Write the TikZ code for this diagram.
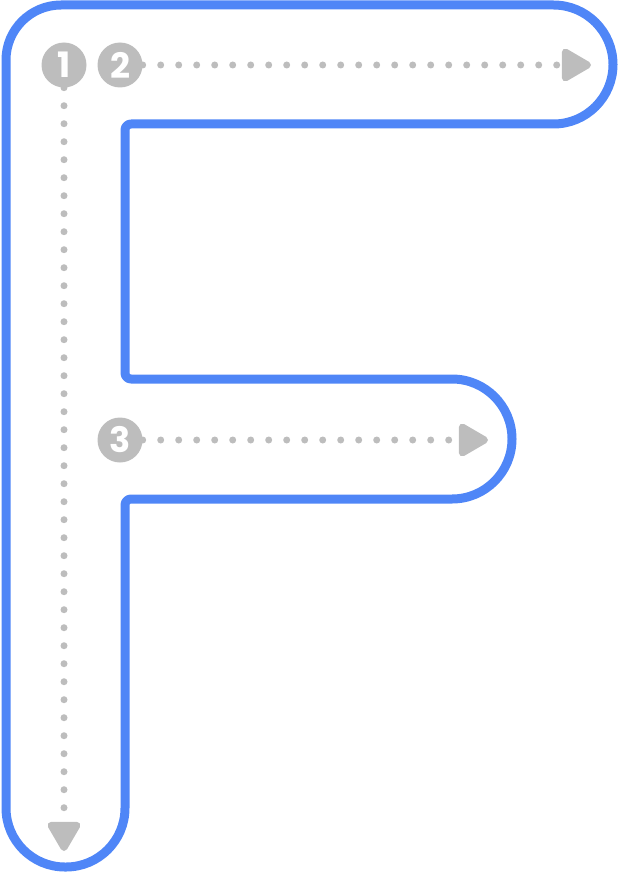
\documentclass[tikz,border=0pt]{standalone}
\usepackage{fontspec}
\setmainfont{Poppins}
\usetikzlibrary{arrows.meta}
\definecolor{fblue}{HTML}{4F86F7}
\definecolor{fgray}{HTML}{BDBDBD}

\begin{document}
\begin{tikzpicture}[x=1pt, y=-1pt,
  outline/.style={draw=fblue, line width=9pt, line join=round},
  badge/.style={circle, fill=fgray, minimum size=45pt, inner sep=0pt,
                text=white, font=\fontsize{35}{35}\selectfont\bfseries},
  trace/.style={draw=fgray, line width=7pt, line cap=round,
                dash pattern=on 0pt off 18pt,
                -{Triangle[length=33pt, width=36pt, round]}}
]
\useasboundingbox (0,0) rectangle (620,880);
\draw[outline] (6,440) [rounded corners=55pt] -- (6,5) [rounded corners=59.5pt] -- (613,5) -- (613,124)
  [rounded corners=6pt] -- (125,124) -- (125,379) [rounded corners=60pt] -- (512,379) -- (512,499)
  [rounded corners=6pt] -- (125,499) [rounded corners=59pt] -- (125,867) -- (6,867) [sharp corners] -- cycle;
\node[badge] (n1) at (64,65) {1};
\node[badge] (n2) at (120,65) {2};
\node[badge] (n3) at (120,440) {3};
\coordinate (e1) at (64,851);
\coordinate (e2) at (591,65);
\coordinate (e3) at (488,440);
\draw[trace] (n1) -- (e1);
\draw[trace] (n2) -- (e2);
\draw[trace] (n3) -- (e3);
\end{tikzpicture}
\end{document}
